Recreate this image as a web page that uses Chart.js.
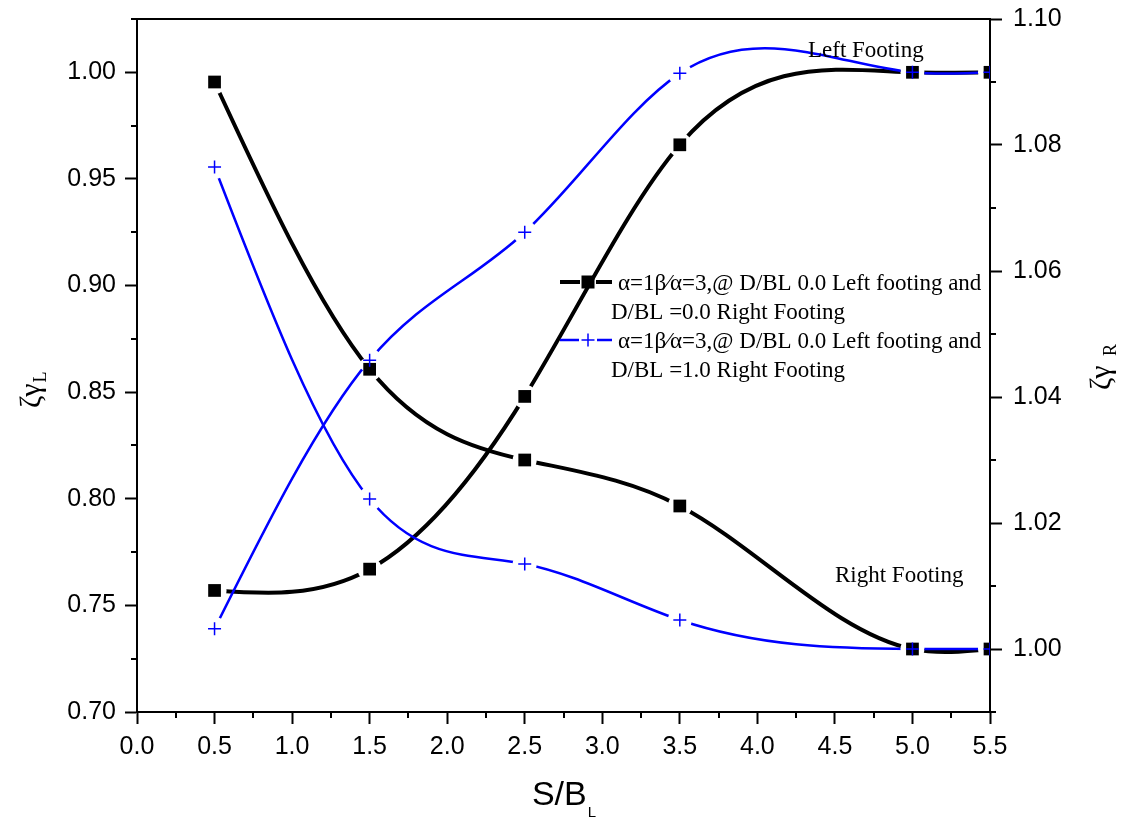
<!DOCTYPE html>
<html>
<head>
<meta charset="utf-8">
<script src="https://cdn.jsdelivr.net/npm/chart.js@4.4.0/dist/chart.umd.min.js"></script>
<style>
html,body{margin:0;padding:0;background:#ffffff;}
#wrap{width:1126px;height:818px;position:relative;}
canvas{display:block;}
</style>
</head>
<body>
<div id="wrap"><canvas id="c" width="1126" height="818"></canvas></div>
<script>
// ---- data ----
const xValues   = [0.5, 1.5, 2.5, 3.5, 5.0, 5.5];             // S/B_L
const blackLeft  = [0.757, 0.767, 0.848, 0.966, 1.000, 1.000]; // left footing, left axis
const blackRight = [1.090, 1.0444, 1.030, 1.0227, 1.000, 1.000]; // right footing, right axis
const blueLeft   = [0.739, 0.865, 0.925, 0.9995, 1.000, 1.000]; // left footing, left axis
const blueRight  = [1.0765, 1.0238, 1.0135, 1.0046, 1.000, 1.000]; // right footing, right axis

// ---- ticks ----
const xTicks      = [0.0, 0.5, 1.0, 1.5, 2.0, 2.5, 3.0, 3.5, 4.0, 4.5, 5.0, 5.5];
const xMinor      = [0.25, 0.75, 1.25, 1.75, 2.25, 2.75, 3.25, 3.75, 4.25, 4.75, 5.25];
const yLeftTicks  = [0.70, 0.75, 0.80, 0.85, 0.90, 0.95, 1.00];
const yLeftMinor  = [0.725, 0.775, 0.825, 0.875, 0.925, 0.975, 1.025];
const yRightTicks = [1.00, 1.02, 1.04, 1.06, 1.08, 1.10];
const yRightMinor = [0.99, 1.01, 1.03, 1.05, 1.07, 1.09];

// ---- texts ----
const legendBlack = ['\u03b1=1\u03b2\u2044\u03b1=3,@ D/BL 0.0 Left footing and', 'D/BL =0.0 Right Footing'];
const legendBlue  = ['\u03b1=1\u03b2\u2044\u03b1=3,@ D/BL 0.0 Left footing and', 'D/BL =1.0 Right Footing'];

const SANS = '"Liberation Sans", Arial, sans-serif';
const SERIF = '"Liberation Serif", "Times New Roman", serif';

const pts = ys => xValues.map((x, i) => ({x: x, y: ys[i]}));

const BLACK = '#000000', BLUE = '#0000ff';

function blackSet(label, ys, axis) {
  return {label, data: pts(ys), yAxisID: axis, borderColor: BLACK, backgroundColor: BLACK,
    borderWidth: 4, tension: 0.4, pointStyle: 'rect', pointRadius: 9, pointHoverRadius: 9,
    pointBackgroundColor: BLACK, pointBorderColor: BLACK, pointBorderWidth: 0, order: 2};
}
function blueSet(label, ys, axis) {
  return {label, data: pts(ys), yAxisID: axis, borderColor: BLUE, backgroundColor: BLUE,
    borderWidth: 2.5, tension: 0.4, pointStyle: 'cross', pointRadius: 6.5, pointHoverRadius: 6.5,
    pointBackgroundColor: BLUE, pointBorderColor: BLUE, pointBorderWidth: 1.5, order: 1};
}

const GAP = 12; // line stops short of each symbol, as in the original plot

// Natural cubic spline (as drawn by the original plotting program) expressed as
// Bezier control points on Chart.js' own line element, computed from the scaled points.
const naturalSpline = {
  id: 'naturalSpline',
  beforeDatasetDraw(chart, args) {
    const meta = args.meta;
    const line = meta.dataset;
    const P = meta.data;
    if (!line || !P || P.length < 3) return;
    try { line.updateControlPoints(chart.chartArea, 'x'); } catch (e) {}
    const n = P.length - 1;
    const X = P.map(p => p.x), Y = P.map(p => p.y);
    const h = [];
    for (let i = 0; i < n; i++) h.push(X[i + 1] - X[i]);
    const M = new Array(n + 1).fill(0);
    const a = [], b = [], c = [], d = [];
    for (let i = 1; i < n; i++) {
      a.push(h[i - 1]); b.push(2 * (h[i - 1] + h[i])); c.push(h[i]);
      d.push(6 * ((Y[i + 1] - Y[i]) / h[i] - (Y[i] - Y[i - 1]) / h[i - 1]));
    }
    const m = b.length;
    for (let i = 1; i < m; i++) {
      const w = a[i] / b[i - 1];
      b[i] -= w * c[i - 1]; d[i] -= w * d[i - 1];
    }
    const sol = new Array(m).fill(0);
    for (let i = m - 1; i >= 0; i--) sol[i] = (d[i] - (i < m - 1 ? c[i] * sol[i + 1] : 0)) / b[i];
    for (let i = 1; i < n; i++) M[i] = sol[i - 1];
    for (let i = 0; i < n; i++) {
      const s = (Y[i + 1] - Y[i]) / h[i];
      const m0 = s - h[i] * (2 * M[i] + M[i + 1]) / 6;
      const m1 = s + h[i] * (M[i] + 2 * M[i + 1]) / 6;
      P[i].cp2x = X[i] + h[i] / 3;
      P[i].cp2y = Y[i] + m0 * h[i] / 3;
      P[i + 1].cp1x = X[i + 1] - h[i] / 3;
      P[i + 1].cp1y = Y[i + 1] - m1 * h[i] / 3;
    }
    P[0].cp1x = X[0]; P[0].cp1y = Y[0];
    P[n].cp2x = X[n]; P[n].cp2y = Y[n];
    line._pointsUpdated = true;
    line._path = undefined;

    // gaps around this dataset's own symbols
    if (!line._gapWrapped) {
      const orig = line.draw;
      line.draw = function (ctx2, ...rest) {
        ctx2.save();
        ctx2.beginPath();
        ctx2.rect(0, 0, chart.width, chart.height);
        (meta.data || []).forEach(p => { ctx2.moveTo(p.x + GAP, p.y); ctx2.arc(p.x, p.y, GAP, 0, Math.PI * 2); });
        ctx2.clip('evenodd');
        const r = orig.call(this, ctx2, ...rest);
        ctx2.restore();
        return r;
      };
      line._gapWrapped = true;
    }
  }
};

const decor = {
  id: 'decor',
  afterDraw(chart) {
    const ctx = chart.ctx, a = chart.chartArea, s = chart.scales;
    ctx.save();
    ctx.strokeStyle = BLACK; ctx.lineWidth = 2; ctx.lineCap = 'butt';
    const seg = (x1, y1, x2, y2) => { ctx.beginPath(); ctx.moveTo(x1, y1); ctx.lineTo(x2, y2); ctx.stroke(); };
    // top frame
    seg(a.left - 1, a.top, a.right + 1, a.top);
    // minor ticks
    xMinor.forEach(v => { const p = Math.round(s.x.getPixelForValue(v)); seg(p, a.bottom, p, a.bottom + 6); });
    yLeftMinor.forEach(v => { const p = Math.round(s.yL.getPixelForValue(v)); seg(a.left - 6, p, a.left, p); });
    yRightMinor.forEach(v => { const p = Math.round(s.yR.getPixelForValue(v)); seg(a.right, p, a.right + 6, p); });

    ctx.fillStyle = BLACK;
    ctx.textBaseline = 'alphabetic';
    ctx.textAlign = 'left';
    // x title
    ctx.font = '34px ' + SANS;
    const wS = ctx.measureText('S/B').width;
    ctx.font = '15px ' + SANS;
    const wL = ctx.measureText('L').width;
    const cx = (a.left + a.right) / 2;
    const x0 = cx - (wS + wL) / 2;
    ctx.font = '34px ' + SANS; ctx.fillText('S/B', x0, 805);
    ctx.font = '15px ' + SANS; ctx.fillText('L', x0 + wS + 1, 817);

    // left y title
    ctx.save();
    ctx.translate(40, 408);
    ctx.rotate(-Math.PI / 2);
    ctx.font = '30px ' + SERIF;
    const wz = ctx.measureText('\u03b6\u03b3').width;
    ctx.fillText('\u03b6\u03b3', 0, 0);
    ctx.font = '18px ' + SERIF;
    ctx.fillText('L', wz + 1, 6);
    ctx.restore();

    // right y title
    ctx.save();
    ctx.translate(1110, 390);
    ctx.rotate(-Math.PI / 2);
    ctx.font = '30px ' + SERIF;
    const wz2 = ctx.measureText('\u03b6\u03b3 ').width;
    ctx.fillText('\u03b6\u03b3', 0, 0);
    ctx.font = '18px ' + SERIF;
    ctx.fillText('R', wz2 + 2, 6);
    ctx.restore();

    // annotations
    ctx.font = '23px ' + SERIF;
    ctx.fillText('Left Footing', 808, 57);
    ctx.fillText('Right Footing', 835, 582);

    // legend
    ctx.lineWidth = 4; ctx.strokeStyle = BLACK;
    seg(560, 282, 580, 282); seg(596, 282, 612, 282);
    ctx.fillRect(581.5, 275.5, 13, 13);
    ctx.strokeStyle = BLUE; ctx.lineWidth = 2.5;
    seg(560, 340, 579, 340); seg(597, 340, 612, 340);
    ctx.lineWidth = 1.5;
    seg(581.5, 340, 594.5, 340); seg(588, 333.5, 588, 346.5);
    ctx.fillStyle = BLACK;
    ctx.font = '23px ' + SERIF;
    ctx.fillText(legendBlack[0], 618, 290);
    ctx.fillText(legendBlack[1], 611, 319);
    ctx.fillText(legendBlue[0], 618, 348);
    ctx.fillText(legendBlue[1], 611, 377);
    ctx.restore();
  }
};

const tickFont = {family: SANS, size: 25};

new Chart(document.getElementById('c'), {
  type: 'line',
  data: {
    datasets: [
      blackSet(legendBlack.join(' ') + ' (left)', blackLeft, 'yL'),
      blackSet(legendBlack.join(' ') + ' (right)', blackRight, 'yR'),
      blueSet(legendBlue.join(' ') + ' (left)', blueLeft, 'yL'),
      blueSet(legendBlue.join(' ') + ' (right)', blueRight, 'yR')
    ]
  },
  options: {
    responsive: false,
    animation: false,
    events: [],
    layout: {padding: {top: 19, left: 0, right: 0, bottom: 0}},
    plugins: {legend: {display: false}, tooltip: {enabled: false}, title: {display: false}},
    scales: {
      x: {
        type: 'linear', position: 'bottom', min: 0, max: 5.5,
        afterBuildTicks: sc => { sc.ticks = xTicks.map(v => ({value: v})); },
        afterFit: sc => { sc.height = 106; sc.paddingLeft = 0; sc.paddingRight = 0; },
        grid: {drawOnChartArea: false, drawTicks: true, tickLength: 12, tickWidth: 2, tickColor: BLACK},
        border: {display: true, color: BLACK, width: 2},
        ticks: {color: BLACK, font: tickFont, padding: 8, maxRotation: 0, autoSkip: false,
          callback: v => Number(v).toFixed(1)}
      },
      yL: {
        type: 'linear', position: 'left', min: 0.70, max: 1.025,
        afterBuildTicks: sc => { sc.ticks = yLeftTicks.map(v => ({value: v})); },
        afterFit: sc => { sc.width = 137; sc.paddingTop = 0; sc.paddingBottom = 0; },
        grid: {drawOnChartArea: false, drawTicks: true, tickLength: 12, tickWidth: 2, tickColor: BLACK},
        border: {display: true, color: BLACK, width: 2},
        ticks: {color: BLACK, font: tickFont, padding: 9, autoSkip: false,
          callback: v => Number(v).toFixed(2)}
      },
      yR: {
        type: 'linear', position: 'right', min: 0.99, max: 1.10,
        afterBuildTicks: sc => { sc.ticks = yRightTicks.map(v => ({value: v})); },
        afterFit: sc => { sc.width = 136; sc.paddingTop = 0; sc.paddingBottom = 0; },
        grid: {drawOnChartArea: false, drawTicks: true, tickLength: 12, tickWidth: 2, tickColor: BLACK},
        border: {display: true, color: BLACK, width: 2},
        ticks: {color: BLACK, font: tickFont, padding: 11, autoSkip: false,
          callback: v => Number(v).toFixed(2)}
      }
    }
  },
  plugins: [naturalSpline, decor]
});
</script>
</body>
</html>
